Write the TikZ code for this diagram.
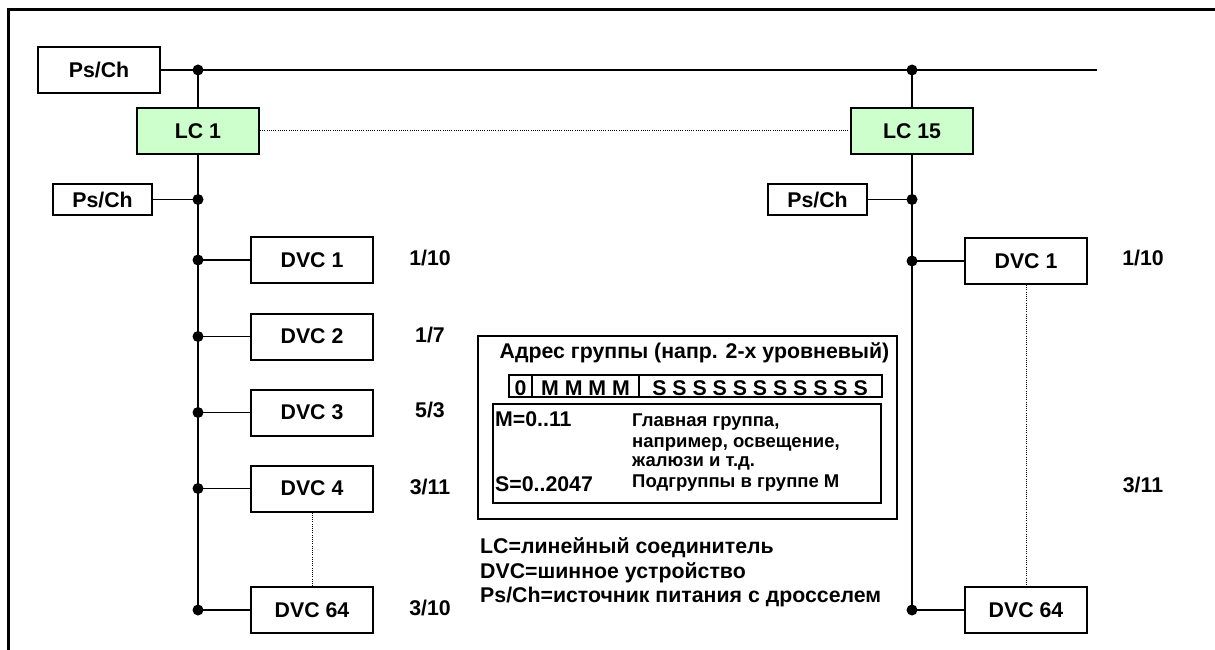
\documentclass[tikz,border=0pt]{standalone}
\usepackage{fontspec}
\setmainfont{Liberation Sans}
\definecolor{lcgreen}{HTML}{CCFFCC}
\begin{document}
\begin{tikzpicture}[x=1pt,y=-1pt,
  box/.style={draw, line width=2pt, fill=white, inner sep=0pt, font=\bfseries\fontsize{21.3}{25}\selectfont},
  lcbox/.style={box, fill=lcgreen},
  psbox/.style={box, minimum width=99, minimum height=31},
  dvcbox/.style={box, minimum width=122, minimum height=46},
  bus/.style={line width=2pt},
  stub/.style={line width=1.6pt},
  jdot/.style={circle, fill=black, inner sep=0pt, minimum size=11pt},
  dots/.style={line width=1pt, dash pattern=on 1pt off 1.2pt},
  lbl/.style={font=\bfseries\fontsize{21.3}{25}\selectfont, inner sep=0pt},
  small/.style={font=\bfseries\fontsize{18.5}{22}\selectfont, inner sep=0pt, anchor=base west},
  frame/.style={line width=3pt}
]
\useasboundingbox (0,0) rectangle (1215,650);
% frame
\coordinate (fR) at (1215,10);
\coordinate (fTL) at (8,10);
\coordinate (fB) at (8,650);
\draw[frame] (fR) -- (fTL) -- (fB);

% top bus
\node[box, minimum width=122, minimum height=46] (ps0) at (99,70) {Ps/Ch};
\coordinate (busend) at (1097,70);
\coordinate (jL) at (198,70);
\coordinate (jR) at (912,70);
\draw[bus] (ps0.east) -- (busend);

% line couplers
\node[lcbox, minimum width=122, minimum height=46] (lc1) at (198,131) {LC 1};
\node[lcbox, minimum width=122, minimum height=46] (lc15) at (912,131) {LC 15};
\draw[dots] (lc1.east) -- (lc15.west);
\draw[bus] (jL) -- (lc1.north);
\draw[bus] (jR) -- (lc15.north);

% left line
\coordinate (jLps) at (198,199.5);
\coordinate (jL1) at (198,260);
\coordinate (jL2) at (198,336.5);
\coordinate (jL3) at (198,412.5);
\coordinate (jL4) at (198,488.5);
\coordinate (jL64) at (198,610);
\draw[bus] (lc1.south) -- (jL64);
\node[psbox] (psL) at (102.5,199.5) {Ps/Ch};
\node[dvcbox] (dL1) at (312,260) {DVC 1};
\node[dvcbox] (dL2) at (312,336.5) {DVC 2};
\node[dvcbox] (dL3) at (312,412.5) {DVC 3};
\node[dvcbox] (dL4) at (312,488.5) {DVC 4};
\node[dvcbox] (dL64) at (312,610) {DVC 64};
\draw[stub] (psL.east) -- (jLps);
\draw[stub] (jL1) -- (dL1.west);
\draw[stub] (jL2) -- (dL2.west);
\draw[stub] (jL3) -- (dL3.west);
\draw[stub] (jL4) -- (dL4.west);
\draw[stub] (jL64) -- (dL64.west);
\draw[dots] (dL4.south) -- (dL64.north);

% right line
\coordinate (jRps) at (912,199.5);
\coordinate (jR1) at (912,261);
\coordinate (jR64) at (912,610);
\draw[bus] (lc15.south) -- (jR64);
\node[psbox] (psR) at (817.5,199.5) {Ps/Ch};
\node[dvcbox] (dR1) at (1026,261) {DVC 1};
\node[dvcbox] (dR64) at (1026,610) {DVC 64};
\draw[stub] (psR.east) -- (jRps);
\draw[stub] (jR1) -- (dR1.west);
\draw[stub] (jR64) -- (dR64.west);
\draw[dots] (dR1.south) -- (dR64.north);

% junction dots
\foreach \j in {jL,jR,jLps,jL1,jL2,jL3,jL4,jL64,jRps,jR1,jR64}
  \node[jdot] at (\j) {};

% addresses
\node[lbl] (aL1) at (430,258) {1/10};
\node[lbl] (aL2) at (430,335) {1/7};
\node[lbl] (aL3) at (430,410) {5/3};
\node[lbl] (aL4) at (430,487) {3/11};
\node[lbl] (aL64) at (430,608) {3/10};
\node[lbl] (aR1) at (1143,258) {1/10};
\node[lbl] (aR64) at (1143,485) {3/11};

% group address box
\node[draw, line width=2pt, minimum width=419, minimum height=183, inner sep=0pt] (addr) at (687.5,427.5) {};
\node[lbl, anchor=base] (atitle) at (694.5,358) {Адрес группы (напр. 2-х уровневый)};
\node[draw, line width=2pt, minimum width=23, minimum height=22, inner sep=0pt] (b0) at (520.5,386) {};
\node[draw, line width=2pt, minimum width=107, minimum height=22, inner sep=0pt] (b1) at (585.5,386) {};
\node[draw, line width=2pt, minimum width=243, minimum height=22, inner sep=0pt] (b2) at (760.5,386) {};
\node[lbl, anchor=base] (t0) at (520.5,395) {0};
\node[lbl, anchor=base] (t1) at (585.5,395) {M M M M};
\node[lbl, anchor=base] (t2) at (760,395) {S S S S S S S S S S S};
\node[draw, line width=2pt, minimum width=388, minimum height=99, inner sep=0pt] (inner) at (687,453.5) {};
\node[lbl, anchor=base west] (mdef) at (495,426) {M=0..11};
\node[lbl, anchor=base west] (sdef) at (495,491) {S=0..2047};
\node[small] (d1) at (632,426) {Главная группа,};
\node[small] (d2) at (632,447) {например, освещение,};
\node[small] (d3) at (632,466) {жалюзи и т.д.};
\node[small] (d4) at (632,487) {Подгруппы в группе M};

% legend
\node[lbl, anchor=base west] (lg1) at (480,553) {LC=линейный соединитель};
\node[lbl, anchor=base west] (lg2) at (480,578) {DVC=шинное устройство};
\node[lbl, anchor=base west] (lg3) at (480,602) {Ps/Ch=источник питания с дросселем};
\end{tikzpicture}
\end{document}
